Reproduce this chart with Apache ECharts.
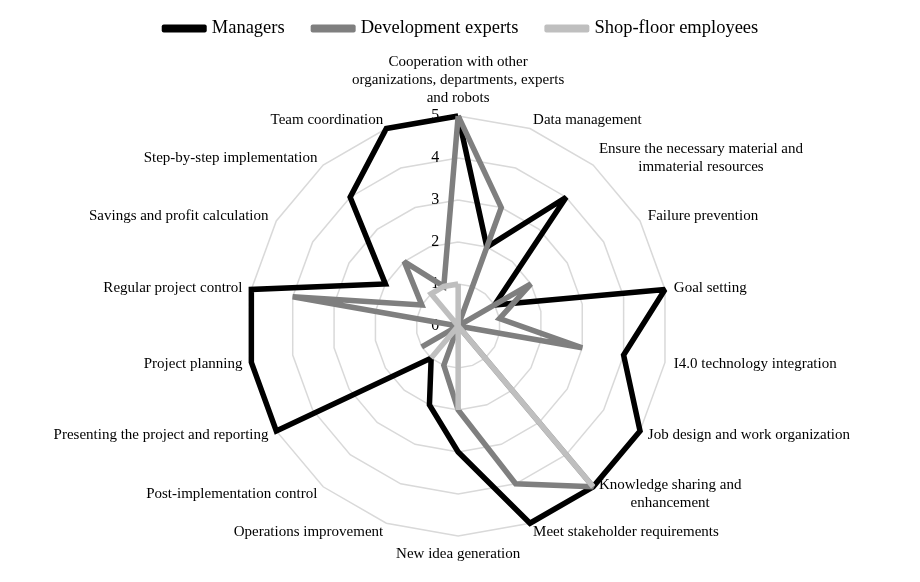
<!DOCTYPE html>
<html>
<head>
<meta charset="utf-8">
<script src="https://cdn.jsdelivr.net/npm/echarts@6/dist/echarts.min.js"></script>
<style>
  html, body { margin: 0; padding: 0; background: #fff; }
  #radarChart { width: 920px; height: 582px; }
</style>
</head>
<body>
<div id="radarChart"></div>
<script>
// indicators clockwise from the top, as in the figure
const categories = [
  "Cooperation with other\norganizations, departments, experts\nand robots",
  "Data management",
  "Ensure the necessary material and\nimmaterial resources",
  "Failure prevention",
  "Goal setting",
  "I4.0 technology integration",
  "Job design and work organization",
  "Knowledge sharing and\nenhancement",
  "Meet stakeholder requirements",
  "New idea generation",
  "Operations improvement",
  "Post-implementation control",
  "Presenting the project and reporting",
  "Project planning",
  "Regular project control",
  "Savings and profit calculation",
  "Step-by-step implementation",
  "Team coordination"
];
const managers = [5, 2, 4, 1, 5, 4, 5, 5, 5, 3, 2, 1, 5, 5, 5, 2, 4, 5];
const developmentExperts = [5, 3, 0, 2, 1, 3, 0, 5, 4, 2, 1, 0, 1, 0, 4, 1, 2, 1];
const shopFloorEmployees = [1, 0, 0, 0, 0, 0, 0, 5, 0, 2, 0, 1, 0, 0, 0, 0, 1, 1];
const seriesNames = ["Managers", "Development experts", "Shop-floor employees"];
const scaleMax = 5;

const FONT = "Liberation Serif";
const colors = ["#000000", "#7f7f7f", "#bfbfbf"];

// echarts lays radar axes out counter-clockwise, so flip the order
const ccw = arr => [arr[0]].concat(arr.slice(1).reverse());

const chart = echarts.init(document.getElementById('radarChart'));

const indicators = ccw(categories).map((name, i) => ({
  name: name,
  min: 0,
  max: scaleMax,
  axisLabel: { show: i === 0 }
}));

const values = [managers, developmentExperts, shopFloorEmployees];

chart.setOption({
  animation: false,
  backgroundColor: "#fff",
  color: colors,
  legend: {
    top: 14,
    left: 'center',
    data: seriesNames,
    icon: 'roundRect',
    itemWidth: 45,
    itemHeight: 8,
    itemGap: 26,
    textStyle: { fontFamily: FONT, fontSize: 18.5, color: "#000" }
  },
  radar: {
    center: ['49.8%', '56%'],
    radius: 210,
    startAngle: 90,
    splitNumber: 5,
    shape: 'polygon',
    nameGap: 9,
    axisName: {
      color: "#000",
      fontFamily: FONT,
      fontSize: 15,
      lineHeight: 18,
      formatter: name => name.split('\n').map(s => '{c|' + s + '}').join('\n'),
      rich: {
        c: { align: 'center', fontFamily: FONT, fontSize: 15, lineHeight: 18, color: "#000" }
      }
    },
    splitLine: { lineStyle: { color: "#d9d9d9", width: 1.5 } },
    splitArea: { show: false },
    axisLine: { show: false },
    axisTick: { show: false },
    axisLabel: {
      show: false,
      margin: 19,
      fontFamily: FONT,
      fontSize: 16,
      color: "#000"
    },
    indicator: indicators
  },
  series: seriesNames.map((name, k) => ({
    name: name,
    type: 'radar',
    symbol: 'none',
    z: 2 + k,
    lineStyle: { color: colors[k], width: 5.5, join: 'miter', miterLimit: 2 },
    itemStyle: { color: colors[k] },
    data: [{ name: name, value: ccw(values[k]) }]
  }))
});
</script>
</body>
</html>
